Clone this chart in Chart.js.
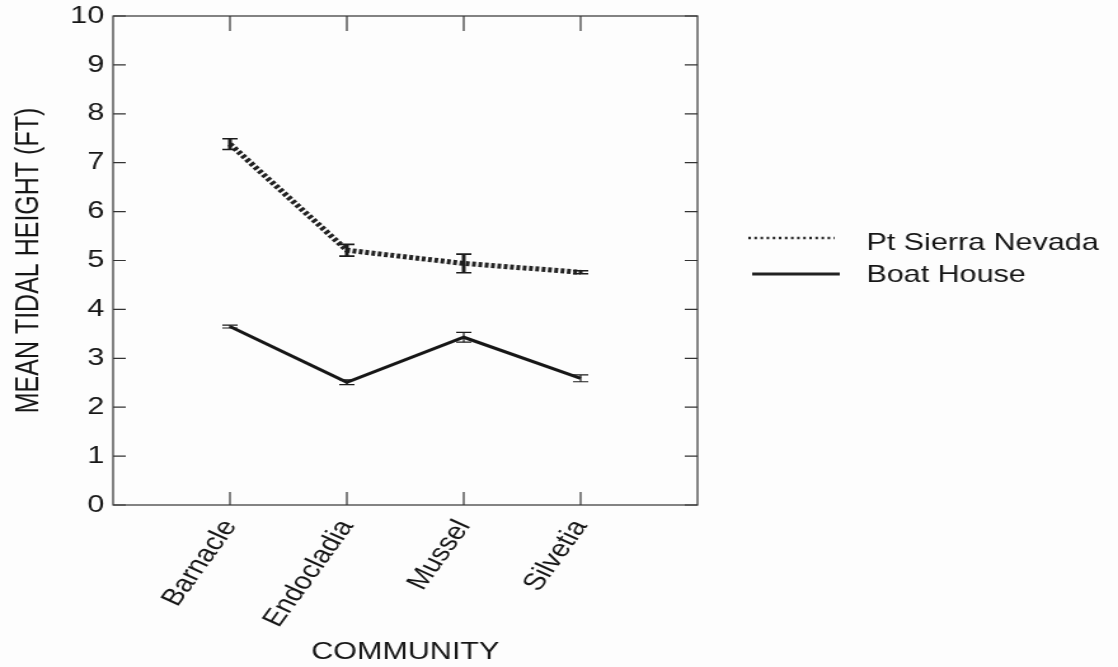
<!DOCTYPE html>
<html>
<head>
<meta charset="utf-8">
<script src="https://cdn.jsdelivr.net/npm/chart.js@4"></script>
<style>
  html, body { margin: 0; padding: 0; background: #fdfdfd; overflow: hidden; }
  /* the reference picture is stretched sideways, so the chart is drawn narrow and scaled */
  #wrap { width: 880px; height: 667px; transform: scaleX(1.2705); transform-origin: 0 0; }
</style>
</head>
<body>
<div id="wrap"><canvas id="chart" width="880" height="667"></canvas></div>
<script>
const categories = ['Barnacle', 'Endocladia', 'Mussel', 'Silvetia'];
const psnMeans = [7.38, 5.21, 4.94, 4.76];
const psnErr = [0.11, 0.12, 0.19, 0.03];
const boatMeans = [3.65, 2.51, 3.43, 2.59];
const boatErr = [0.03, 0.05, 0.10, 0.07];
const yTicks = [0, 1, 2, 3, 4, 5, 6, 7, 8, 9, 10];

const FONT = "'Liberation Sans', Arial, sans-serif";
const INK = '#161616';

const toPoints = (arr) => arr.map((v, i) => ({ x: i + 1, y: v }));

// frame + inward ticks on all four sides
const framePlugin = {
  id: 'frame',
  beforeDatasetsDraw(chart) {
    const { ctx, chartArea: a, scales: { x, y } } = chart;
    ctx.save();
    ctx.strokeStyle = '#333';
    ctx.lineWidth = 1.2;
    ctx.strokeRect(a.left, a.top, a.right - a.left, a.bottom - a.top);
    ctx.beginPath();
    yTicks.forEach(v => {
      const py = y.getPixelForValue(v);
      ctx.moveTo(a.left, py); ctx.lineTo(a.left + 10, py);
      ctx.moveTo(a.right, py); ctx.lineTo(a.right - 10, py);
    });
    categories.forEach((c, i) => {
      const px = x.getPixelForValue(i + 1);
      ctx.moveTo(px, a.bottom); ctx.lineTo(px, a.bottom - 13);
      ctx.moveTo(px, a.top); ctx.lineTo(px, a.top + 15);
    });
    ctx.stroke();
    ctx.restore();
  }
};

// vertical error bars with caps
const errorPlugin = {
  id: 'errbars',
  afterDatasetsDraw(chart) {
    const { ctx, scales: { x, y } } = chart;
    const errs = [psnErr, boatErr];
    ctx.save();
    ctx.strokeStyle = '#1c1c1c';
    chart.data.datasets.forEach((ds, di) => {
      ds.data.forEach((p, i) => {
        const px = x.getPixelForValue(p.x);
        const top = y.getPixelForValue(p.y + errs[di][i]);
        const bot = y.getPixelForValue(p.y - errs[di][i]);
        ctx.beginPath();
        ctx.lineWidth = di === 0 ? 3 : 1.2;
        ctx.moveTo(px, top); ctx.lineTo(px, bot);
        ctx.stroke();
        ctx.beginPath();
        ctx.lineWidth = di === 0 ? 1.6 : 1.2;
        ctx.moveTo(px - 6, top); ctx.lineTo(px + 6, top);
        ctx.moveTo(px - 6, bot); ctx.lineTo(px + 6, bot);
        ctx.stroke();
      });
    });
    ctx.restore();
  }
};

// legend to the right of the plot
const legendPlugin = {
  id: 'sideLegend',
  afterDraw(chart) {
    const { ctx } = chart;
    const rows = [243, 275];
    ctx.save();
    chart.data.datasets.forEach((ds, i) => {
      const yy = rows[i];
      ctx.beginPath();
      ctx.strokeStyle = '#222';
      if (i === 0) { ctx.setLineDash([2, 2.8]); ctx.lineWidth = 2.4; ctx.moveTo(589, yy - 5); ctx.lineTo(657, yy - 5); }
      else { ctx.setLineDash([]); ctx.lineWidth = 3; ctx.moveTo(592, yy - 1); ctx.lineTo(661, yy - 1); }
      ctx.stroke();
      ctx.setLineDash([]);
      ctx.fillStyle = INK;
      ctx.font = '24px ' + FONT;
      ctx.textBaseline = 'middle';
      ctx.fillText(ds.label, 682, yy);
    });
    ctx.restore();
  }
};

new Chart(document.getElementById('chart'), {
  type: 'line',
  data: {
    datasets: [
      { label: 'Pt Sierra Nevada', data: toPoints(psnMeans), borderColor: '#222', borderWidth: 5,
        borderDash: [3, 2], pointRadius: 0, fill: false, tension: 0 },
      { label: 'Boat House', data: toPoints(boatMeans), borderColor: '#161616', borderWidth: 3,
        pointRadius: 0, fill: false, tension: 0 }
    ]
  },
  options: {
    responsive: false,
    animation: false,
    layout: { padding: { left: 0, right: 331, top: 16, bottom: 0 } },
    plugins: { legend: { display: false }, tooltip: { enabled: false } },
    scales: {
      x: {
        type: 'linear', min: 0, max: 5,
        grid: { display: false, drawTicks: false },
        border: { display: false },
        ticks: {
          stepSize: 1, autoSkip: false, maxRotation: 60, minRotation: 60, padding: 10,
          color: INK, font: { family: FONT, size: 24 },
          callback: (v) => categories[v - 1] || ''
        },
        title: { display: true, text: 'COMMUNITY', color: INK, font: { family: FONT, size: 24 }, padding: { top: 0, bottom: 0 } },
        afterFit: (s) => { s.height = 162; s.paddingLeft = 0; s.paddingRight = 0; }
      },
      y: {
        min: 0, max: 10,
        grid: { display: false, drawTicks: false },
        border: { display: false },
        afterBuildTicks: (s) => { s.ticks = yTicks.map(v => ({ value: v })); },
        ticks: { padding: 7, color: INK, font: { family: FONT, size: 24 } },
        title: { display: true, text: 'MEAN TIDAL HEIGHT (FT)', color: INK, font: { family: FONT, size: 25 }, padding: { top: 8, bottom: 0 } },
        afterFit: (s) => { s.width = 89; s.paddingTop = 0; s.paddingBottom = 0; }
      }
    }
  },
  plugins: [framePlugin, errorPlugin, legendPlugin]
});
</script>
</body>
</html>
